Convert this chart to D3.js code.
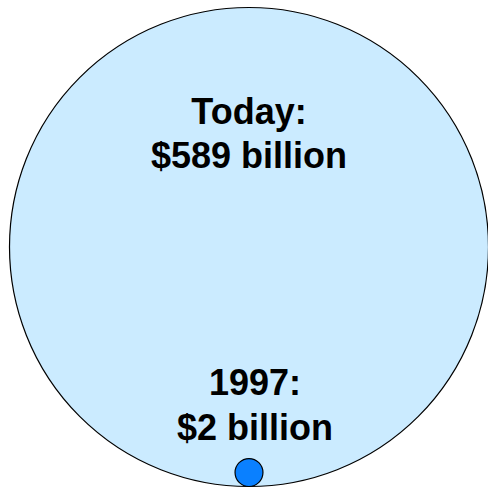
<!DOCTYPE html>
<html>
<head>
<meta charset="utf-8">
<script src="https://cdn.jsdelivr.net/npm/d3@7"></script>
<style>
  html, body { margin: 0; padding: 0; background: #ffffff; }
  svg { display: block; }
</style>
</head>
<body>
<script>
// Market size, in billions of dollars
const periods = ["1997", "Today"];
const values = [2, 589];
const captions = ["1997:", "Today:"];
const amounts = ["$2 billion", "$589 billion"];

const W = 488, H = 488;
const cx = 249, baseY = 486.5;

const svg = d3.select("body").append("svg")
  .attr("width", W).attr("height", H);

// Circle areas proportional to value
const r = d3.scaleSqrt().domain([0, d3.max(values)]).range([0, 239.5]);

const rows = periods.map((p, i) => ({ period: p, value: values[i], caption: captions[i], amount: amounts[i] }))
  .sort((a, b) => b.value - a.value);

const fills = { "Today": "#cbebff", "1997": "#0a80ff" };

svg.selectAll("circle.bubble")
  .data(rows)
  .join("circle")
  .attr("class", "bubble")
  .attr("cx", cx)
  .attr("cy", d => baseY - r(d.value))
  .attr("r", d => r(d.value))
  .attr("fill", d => fills[d.period])
  .attr("stroke", "#000")
  .attr("stroke-width", 1.2);

// Labels: big value near the top of its bubble, small value above its bubble
const labelPos = {
  "Today": { x: 249, y1: 123.5, y2: 168 },
  "1997": { x: 255, y1: 395, y2: 440 }
};

const g = svg.append("g")
  .attr("font-family", "'Liberation Sans', Arial, sans-serif")
  .attr("font-weight", "bold")
  .attr("font-size", 36)
  .attr("fill", "#000")
  .attr("text-anchor", "middle");

rows.forEach(d => {
  const p = labelPos[d.period];
  g.append("text").attr("x", p.x).attr("y", p.y1).text(d.caption);
  g.append("text").attr("x", p.x).attr("y", p.y2).text(d.amount);
});
</script>
</body>
</html>
